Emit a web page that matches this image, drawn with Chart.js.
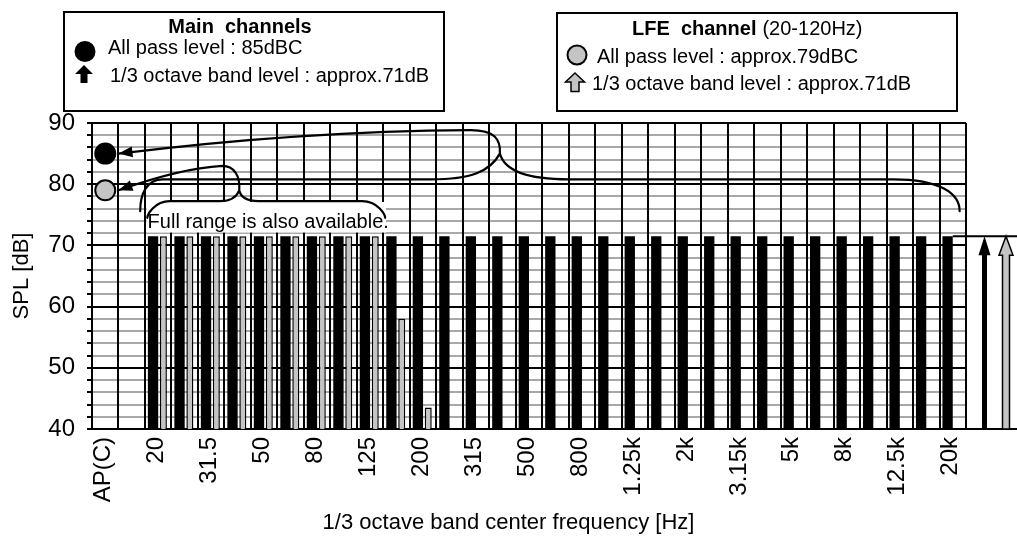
<!DOCTYPE html>
<html>
<head>
<meta charset="utf-8">
<script src="https://cdn.jsdelivr.net/npm/chart.js@4.4.1/dist/chart.umd.min.js"></script>
<style>
  html, body { margin: 0; padding: 0; background: #fff; }
  #wrap { width: 1017px; height: 545px; }
</style>
</head>
<body>
<div id="wrap"><canvas id="spl"></canvas></div>
<script>
// 1/3 octave band centre frequencies, 20 Hz .. 20 kHz
const bands = ['20', '25', '31.5', '40', '50', '63', '80', '100', '125', '160', '200', '250', '315', '400', '500',
  '630', '800', '1k', '1.25k', '1.6k', '2k', '2.5k', '3.15k', '4k', '5k', '6.3k', '8k', '10k', '12.5k', '16k', '20k'];
// first slot is the all pass level, second one is left empty
const categories = ['AP(C)', ''].concat(bands);

// band levels [dB]
const mainBand = [71.5, 71.5, 71.5, 71.5, 71.5, 71.5, 71.5, 71.5, 71.5, 71.5, 71.5, 71.5, 71.5, 71.5, 71.5, 71.5,
  71.5, 71.5, 71.5, 71.5, 71.5, 71.5, 71.5, 71.5, 71.5, 71.5, 71.5, 71.5, 71.5, 71.5, 71.5];
const lfeBand = [71.5, 71.5, 71.5, 71.5, 71.5, 71.5, 71.5, 71.5, 71.5, 58, 43.5, null, null, null, null, null,
  null, null, null, null, null, null, null, null, null, null, null, null, null, null, null];

// all pass levels [dBC]
const mainAllPass = 85;
const lfeAllPass = 79;

const yTicks = [40, 50, 60, 70, 80, 90];

const FONT = '"Liberation Sans", Arial, Helvetica, sans-serif';
const GRAY = '#c4c4c4';
Chart.defaults.font.family = FONT;
Chart.defaults.color = '#000';

function upArrow(ctx, cx, top, bottom, headW, headH, shaftW, fill, stroke) {
  ctx.beginPath();
  ctx.moveTo(cx, top);
  ctx.lineTo(cx + headW / 2, top + headH);
  ctx.lineTo(cx + shaftW / 2, top + headH);
  ctx.lineTo(cx + shaftW / 2, bottom);
  ctx.lineTo(cx - shaftW / 2, bottom);
  ctx.lineTo(cx - shaftW / 2, top + headH);
  ctx.lineTo(cx - headW / 2, top + headH);
  ctx.closePath();
  ctx.fillStyle = fill;
  ctx.fill();
  if (stroke) {
    ctx.lineWidth = 1.5;
    ctx.strokeStyle = stroke;
    ctx.stroke();
  }
}

function arrowHead(ctx, fx, fy, tx, ty) {
  const a = Math.atan2(ty - fy, tx - fx);
  const len = 14, hw = 5.5;
  ctx.beginPath();
  ctx.moveTo(tx, ty);
  ctx.lineTo(tx - len * Math.cos(a) + hw * Math.sin(a), ty - len * Math.sin(a) - hw * Math.cos(a));
  ctx.lineTo(tx - len * Math.cos(a) - hw * Math.sin(a), ty - len * Math.sin(a) + hw * Math.cos(a));
  ctx.closePath();
  ctx.fillStyle = '#000';
  ctx.fill();
}

// brace with a pointer: cusp at (k0, v0), pointer ends at the all pass dot
function brace(ctx, X, Y, b) {
  ctx.beginPath();
  // pointer
  ctx.moveTo(X(b.cusp[0]), Y(b.cusp[1]));
  ctx.bezierCurveTo(X(b.cusp[0] + 0.04), Y(b.cusp[1] + 0.6 * (b.peak - b.cusp[1])),
    X(b.cusp[0] - 0.2), Y(b.peak), X(b.peakK), Y(b.peak));
  ctx.quadraticCurveTo(X(b.ctrl[0]), Y(b.ctrl[1]), X(0.5), Y(b.cusp[1]));
  // left arm
  ctx.moveTo(X(b.cusp[0]), Y(b.cusp[1]));
  ctx.bezierCurveTo(X(b.cusp[0] - b.bend[0]), Y(b.arm + 0.3 * (b.cusp[1] - b.arm)),
    X(b.cusp[0] - b.bend[1]), Y(b.arm), X(b.cusp[0] - b.bend[2]), Y(b.arm));
  ctx.lineTo(X(b.left + 0.85), Y(b.arm));
  ctx.bezierCurveTo(X(b.left + 0.25), Y(b.arm), X(b.left), Y(b.arm - 2.3), X(b.left), Y(b.end));
  // right arm
  ctx.moveTo(X(b.cusp[0]), Y(b.cusp[1]));
  ctx.bezierCurveTo(X(b.cusp[0] + b.bend[0] * 0.5), Y(b.arm + 0.3 * (b.cusp[1] - b.arm)),
    X(b.cusp[0] + b.bend[1]), Y(b.arm), X(b.cusp[0] + b.bend[2]), Y(b.arm));
  ctx.lineTo(X(b.right - b.rr), Y(b.arm));
  ctx.bezierCurveTo(X(b.right - b.rr * 0.3), Y(b.arm), X(b.right), Y(b.arm - 2.3), X(b.right), Y(b.end));
  ctx.lineWidth = 2.2;
  ctx.strokeStyle = '#000';
  ctx.stroke();
  arrowHead(ctx, X(b.ctrl[0]), Y(b.ctrl[1]), X(0.5), Y(b.cusp[1]));
}

const annotations = {
  id: 'annotations',
  beforeDatasetsDraw(chart) {
    const {ctx} = chart;
    const X = k => chart.scales.x.getPixelForValue(k);
    const Y = v => chart.scales.y.getPixelForValue(v);
    ctx.save();
    ctx.fillStyle = '#fff';
    ctx.fillRect(X(1.56), Y(77.1), X(10.6) - X(1.56), Y(72.1) - Y(77.1));
    ctx.restore();
  },
  afterDatasetsDraw(chart) {
    const {ctx, chartArea, width} = chart;
    const X = k => chart.scales.x.getPixelForValue(k);
    const Y = v => chart.scales.y.getPixelForValue(v);
    ctx.save();
    ctx.lineCap = 'round';

    brace(ctx, X, Y, {cusp: [14.9, mainAllPass], peak: 88.85, peakK: 13.8, ctrl: [7.4, 88.7],
      arm: 80.8, bend: [0.37, 1.1, 2.6], left: 1.32, right: 32.26, rr: 2.5, end: 75.6});
    brace(ctx, X, Y, {cusp: [5.06, lfeAllPass], peak: 83.0, peakK: 4.42, ctrl: [2.83, 82.6],
      arm: 77.25, bend: [0.11, 0.34, 0.72], left: 1.59, right: 10.57, rr: 0.87, end: 74.5});

    ctx.font = '20px ' + FONT;
    ctx.fillStyle = '#000';
    ctx.textBaseline = 'alphabetic';
    ctx.fillText('Full range is also available.', X(1.6), Y(72.8));

    // reference level on the right of the plot
    const lvl = Y(mainBand[mainBand.length - 1]);
    ctx.lineWidth = 2;
    ctx.lineCap = 'butt';
    ctx.beginPath();
    ctx.moveTo(X(32), lvl);
    ctx.lineTo(width, lvl);
    ctx.moveTo(chartArea.right, chartArea.bottom);
    ctx.lineTo(width, chartArea.bottom);
    ctx.stroke();
    upArrow(ctx, chartArea.right + 18.5, lvl, chartArea.bottom, 12, 19, 5, '#000');
    upArrow(ctx, chartArea.right + 40, lvl, chartArea.bottom, 14, 19, 7, GRAY, '#000');
    ctx.restore();
  },
  afterDraw(chart) {
    const {ctx, width} = chart;
    ctx.save();
    ctx.lineWidth = 2;
    ctx.strokeStyle = '#000';
    ctx.strokeRect(64, 12, 380, 99);
    ctx.strokeRect(557, 13, 400, 98);

    ctx.fillStyle = '#000';
    ctx.textBaseline = 'alphabetic';
    ctx.font = 'bold 20px ' + FONT;
    ctx.textAlign = 'center';
    ctx.fillText('Main  channels', 240, 33);
    ctx.textAlign = 'left';
    ctx.fillText('LFE  channel', 632, 35);
    const lw = ctx.measureText('LFE  channel').width;
    ctx.font = '20px ' + FONT;
    ctx.fillText('(20-120Hz)', 632 + lw + 6, 35);

    ctx.fillText('All pass level : ' + mainAllPass + 'dBC', 108, 54);
    ctx.fillText('1/3 octave band level : approx.71dB', 110, 81.5);
    ctx.fillText('All pass level : approx.' + lfeAllPass + 'dBC', 597, 63);
    ctx.fillText('1/3 octave band level : approx.71dB', 592, 89.5);

    ctx.lineWidth = 2;
    ctx.beginPath();
    ctx.arc(85, 51.5, 9.5, 0, Math.PI * 2);
    ctx.fillStyle = '#000';
    ctx.fill();
    ctx.stroke();
    ctx.beginPath();
    ctx.arc(577, 55, 9.5, 0, Math.PI * 2);
    ctx.fillStyle = GRAY;
    ctx.fill();
    ctx.stroke();

    upArrow(ctx, 84, 65, 83, 18, 9, 7, '#000');
    upArrow(ctx, 575, 73, 91.5, 19, 9, 8, GRAY, '#000');

    // x axis title, centred on the page
    ctx.fillStyle = '#000';
    ctx.font = '22px ' + FONT;
    ctx.textAlign = 'center';
    ctx.textBaseline = 'middle';
    ctx.fillText('1/3 octave band center frequency [Hz]', width / 2, 523);
    ctx.restore();
  }
};

new Chart(document.getElementById('spl'), {
  type: 'bar',
  data: {
    labels: categories,
    datasets: [
      {
        type: 'line',
        label: 'Main all pass',
        data: [mainAllPass],
        showLine: false,
        pointRadius: 10,
        pointBackgroundColor: '#000',
        pointBorderColor: '#000',
        pointBorderWidth: 2
      },
      {
        type: 'line',
        label: 'LFE all pass',
        data: [lfeAllPass],
        showLine: false,
        pointRadius: 10,
        pointBackgroundColor: GRAY,
        pointBorderColor: '#000',
        pointBorderWidth: 2
      },
      {
        label: 'Main channels',
        data: [null, null].concat(mainBand),
        backgroundColor: '#000',
        borderColor: '#000',
        borderWidth: 0,
        categoryPercentage: 0.78,
        barPercentage: 1.0
      },
      {
        label: 'LFE channel',
        data: [null, null].concat(lfeBand),
        backgroundColor: GRAY,
        borderColor: '#000',
        borderWidth: 1.5,
        categoryPercentage: 0.78,
        barPercentage: 0.68
      }
    ]
  },
  options: {
    responsive: true,
    maintainAspectRatio: false,
    devicePixelRatio: 1,
    animation: false,
    layout: { padding: { top: 123, right: 51, left: 0, bottom: 0 } },
    plugins: {
      legend: { display: false },
      tooltip: { enabled: false }
    },
    scales: {
      x: {
        offset: true,
        grid: { offset: true, color: '#000', lineWidth: 2, drawTicks: false, z: -1 },
        border: { color: '#000', width: 2 },
        ticks: {
          autoSkip: false,
          minRotation: 90,
          maxRotation: 90,
          padding: 8,
          labelOffset: -2,
          color: '#000',
          font: { size: 24 },
          callback: (v, i) => (i % 2 === 0 ? categories[i] : '')
        },
        afterFit: s => { s.height = 116; }
      },
      y: {
        min: 40,
        max: 90,
        ticks: {
          stepSize: 2,
          autoSkip: false,
          padding: 12,
          color: '#000',
          font: { size: 24 },
          callback: v => (yTicks.includes(v) ? v : '')
        },
        grid: {
          color: c => (c.tick && c.tick.value % 10 === 0 ? '#000' : '#a8a8a8'),
          lineWidth: 2,
          tickColor: '#000',
          tickLength: 5,
          tickWidth: 2,
          z: -2
        },
        border: { color: '#000', width: 2 },
        title: { display: true, text: 'SPL [dB]', color: '#000', font: { size: 22 }, padding: { top: 9, bottom: 0 } },
        afterFit: s => { s.width = 92; }
      }
    }
  },
  plugins: [annotations]
});
</script>
</body>
</html>
